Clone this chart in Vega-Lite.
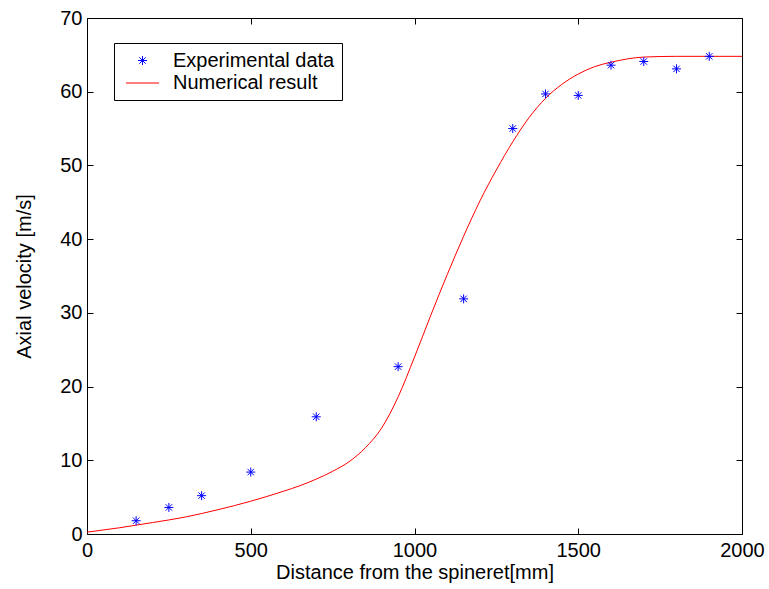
{
  "$schema": "https://vega.github.io/schema/vega-lite/v6.json",
  "autosize": {"type": "none"},
  "padding": {"left": 87, "top": 18, "right": 27, "bottom": 55},
  "width": 655,
  "height": 516,
  "background": "white",
  "config": {
    "font": "Liberation Sans",
    "view": {"stroke": "black", "strokeWidth": 1},
    "axis": {
      "grid": false,
      "domain": false,
      "tickColor": "black",
      "tickSize": -6,
      "tickWidth": 1,
      "labelFont": "Liberation Sans",
      "labelFontSize": 20,
      "labelColor": "black",
      "titleFont": "Liberation Sans",
      "titleFontSize": 20,
      "titleFontWeight": "normal",
      "titleColor": "black",
      "labelFlush": false
    },
    "legend": {
      "orient": "none", "legendX": 27, "legendY": 25, "title": null,
      "strokeColor": "black", "fillColor": "white", "padding": 7,
      "symbolSize": 400, "symbolStrokeWidth": 1, "symbolOffset": 11, "labelOffset": 20,
      "labelFontSize": 20, "labelColor": "black", "labelFont": "Liberation Sans",
      "labelLimit": 400, "rowPadding": 1.5
    }
  },
  "datasets": {
    "exp": [
      {"distance": 150, "velocity": 1.8, "series": "Experimental data"},
      {"distance": 250, "velocity": 3.6, "series": "Experimental data"},
      {"distance": 350, "velocity": 5.2, "series": "Experimental data"},
      {"distance": 500, "velocity": 8.4, "series": "Experimental data"},
      {"distance": 700, "velocity": 15.9, "series": "Experimental data"},
      {"distance": 950, "velocity": 22.7, "series": "Experimental data"},
      {"distance": 1150, "velocity": 31.9, "series": "Experimental data"},
      {"distance": 1300, "velocity": 55.0, "series": "Experimental data"},
      {"distance": 1400, "velocity": 59.7, "series": "Experimental data"},
      {"distance": 1500, "velocity": 59.5, "series": "Experimental data"},
      {"distance": 1600, "velocity": 63.6, "series": "Experimental data"},
      {"distance": 1700, "velocity": 64.1, "series": "Experimental data"},
      {"distance": 1800, "velocity": 63.1, "series": "Experimental data"},
      {"distance": 1900, "velocity": 64.8, "series": "Experimental data"}
    ],
    "num": [
      {"distance": 0, "velocity": 0.25, "series": "Numerical result"},
      {"distance": 100, "velocity": 0.85, "series": "Numerical result"},
      {"distance": 200, "velocity": 1.55, "series": "Numerical result"},
      {"distance": 300, "velocity": 2.3, "series": "Numerical result"},
      {"distance": 400, "velocity": 3.3, "series": "Numerical result"},
      {"distance": 450, "velocity": 3.85, "series": "Numerical result"},
      {"distance": 500, "velocity": 4.45, "series": "Numerical result"},
      {"distance": 550, "velocity": 5.1, "series": "Numerical result"},
      {"distance": 600, "velocity": 5.8, "series": "Numerical result"},
      {"distance": 650, "velocity": 6.55, "series": "Numerical result"},
      {"distance": 700, "velocity": 7.45, "series": "Numerical result"},
      {"distance": 750, "velocity": 8.5, "series": "Numerical result"},
      {"distance": 800, "velocity": 9.8, "series": "Numerical result"},
      {"distance": 850, "velocity": 11.7, "series": "Numerical result"},
      {"distance": 900, "velocity": 14.4, "series": "Numerical result"},
      {"distance": 950, "velocity": 18.6, "series": "Numerical result"},
      {"distance": 1000, "velocity": 24.0, "series": "Numerical result"},
      {"distance": 1050, "velocity": 29.7, "series": "Numerical result"},
      {"distance": 1100, "velocity": 35.2, "series": "Numerical result"},
      {"distance": 1150, "velocity": 40.4, "series": "Numerical result"},
      {"distance": 1200, "velocity": 45.2, "series": "Numerical result"},
      {"distance": 1250, "velocity": 49.4, "series": "Numerical result"},
      {"distance": 1300, "velocity": 53.2, "series": "Numerical result"},
      {"distance": 1350, "velocity": 56.5, "series": "Numerical result"},
      {"distance": 1400, "velocity": 59.1, "series": "Numerical result"},
      {"distance": 1450, "velocity": 61.0, "series": "Numerical result"},
      {"distance": 1500, "velocity": 62.4, "series": "Numerical result"},
      {"distance": 1550, "velocity": 63.4, "series": "Numerical result"},
      {"distance": 1600, "velocity": 64.0, "series": "Numerical result"},
      {"distance": 1650, "velocity": 64.45, "series": "Numerical result"},
      {"distance": 1700, "velocity": 64.7, "series": "Numerical result"},
      {"distance": 1800, "velocity": 64.8, "series": "Numerical result"},
      {"distance": 1900, "velocity": 64.8, "series": "Numerical result"},
      {"distance": 2000, "velocity": 64.8, "series": "Numerical result"}
    ]
  },
  "layer": [
    {
      "data": {"name": "num"},
      "mark": {"type": "line", "strokeWidth": 1, "interpolate": "monotone", "clip": true},
      "encoding": {
        "x": {
          "field": "distance", "type": "quantitative",
          "scale": {"domain": [0, 2000], "nice": false, "zero": false},
          "axis": {"orient": "bottom", "values": [0, 500, 1000, 1500, 2000], "format": "d", "title": "Distance from the spineret[mm]", "labelPadding": 12, "titlePadding": 2}
        },
        "y": {
          "field": "velocity", "type": "quantitative",
          "scale": {"domain": [0, 70], "nice": false},
          "axis": {"orient": "left", "values": [0, 10, 20, 30, 40, 50, 60, 70], "title": "Axial velocity [m/s]", "labelPadding": 11, "titlePadding": 25}
        },
        "color": {
          "field": "series", "type": "nominal",
          "scale": {"domain": ["Experimental data", "Numerical result"], "range": ["#0000ff", "#ff0000"]}
        }
      }
    },
    {
      "data": {"name": "exp"},
      "mark": {"type": "point", "filled": false, "strokeWidth": 1, "size": 400, "opacity": 1},
      "encoding": {
        "x": {
          "field": "distance", "type": "quantitative",
          "axis": {"orient": "top", "values": [0, 500, 1000, 1500, 2000], "labels": false, "title": null}
        },
        "y": {
          "field": "velocity", "type": "quantitative",
          "axis": {"orient": "right", "values": [0, 10, 20, 30, 40, 50, 60, 70], "labels": false, "title": null}
        },
        "color": {
          "field": "series", "type": "nominal"
        },
        "shape": {
          "field": "series", "type": "nominal",
          "scale": {"domain": ["Experimental data", "Numerical result"], "range": ["M0,-0.45L0,0.45M-0.45,0L0.45,0M-0.32,-0.32L0.32,0.32M-0.32,0.32L0.32,-0.32", "M-1.65,0L1.65,0"]}
        }
      }
    }
  ],
  "resolve": {"axis": {"x": "independent", "y": "independent"}}
}
